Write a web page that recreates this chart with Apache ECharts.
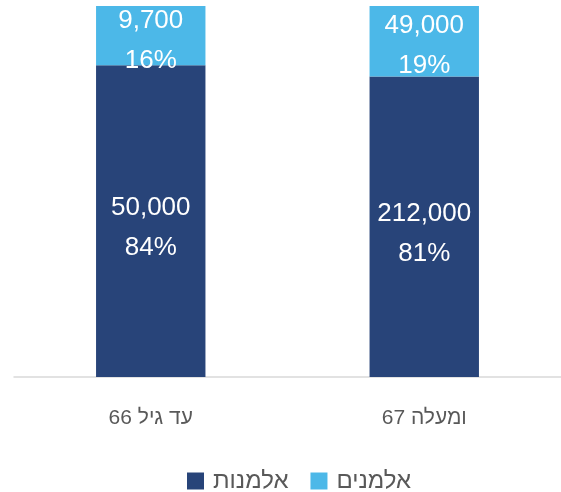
<!DOCTYPE html>
<html>
<head>
<meta charset="utf-8">
<script src="https://cdn.jsdelivr.net/npm/echarts@6/dist/echarts.min.js"></script>
<style>
    html, body { margin: 0; padding: 0; background: #fff; }
    #chartsmain { width: 561px; height: 492px; }
</style>
</head>
<body>
<div id="chartsmain"></div>
<script>
    // נתונים
    var categories = ['עד גיל 66', '67 ומעלה'];
    var seriesNames = ['אלמנות', 'אלמנים'];
    var widowsCount = [50000, 212000];
    var widowersCount = [9700, 49000];
    var widowsPct = [84, 81];
    var widowersPct = [16, 19];

    var font = 'Liberation Sans, DejaVu Sans, sans-serif';

    function fmt(counts, pcts) {
        return function (p) {
            return counts[p.dataIndex].toLocaleString('en-US') + '\n' + pcts[p.dataIndex] + '%';
        };
    }

    var chart = echarts.init(document.getElementById('chartsmain'));
    var option = {
        animation: false,
        textStyle: { fontFamily: font },
        legend: {
            data: seriesNames,
            top: 464,
            left: 182,
            itemWidth: 17,
            itemHeight: 17,
            itemGap: 22,
            icon: 'rect',
            textStyle: { fontSize: 24, color: '#595959', fontFamily: font, padding: [0, 0, 0, 4] }
        },
        grid: { left: 14, top: 6, right: -8, bottom: 115 },
        xAxis: {
            type: 'category',
            data: categories,
            axisLine: { lineStyle: { color: '#d9d9d9', width: 1.5 } },
            axisTick: { show: false },
            axisLabel: { fontSize: 21, color: '#595959', margin: 31, fontFamily: font }
        },
        yAxis: {
            type: 'value',
            min: 0,
            max: 100,
            show: false
        },
        series: [
            {
                name: seriesNames[0],
                type: 'bar',
                stack: 'all',
                barWidth: '40%',
                data: widowsPct,
                itemStyle: { color: '#284479' },
                label: {
                    show: true, position: 'inside', offset: [0, 7],
                    color: '#fff', fontSize: 26, lineHeight: 40, fontFamily: font,
                    formatter: fmt(widowsCount, widowsPct)
                }
            },
            {
                name: seriesNames[1],
                type: 'bar',
                stack: 'all',
                barWidth: '40%',
                data: widowersPct,
                itemStyle: { color: '#4cb8e8' },
                label: {
                    show: true, position: 'inside', offset: [0, 5],
                    color: '#fff', fontSize: 26, lineHeight: 40, fontFamily: font,
                    formatter: fmt(widowersCount, widowersPct)
                }
            }
        ]
    };
    chart.setOption(option);
</script>
</body>
</html>
